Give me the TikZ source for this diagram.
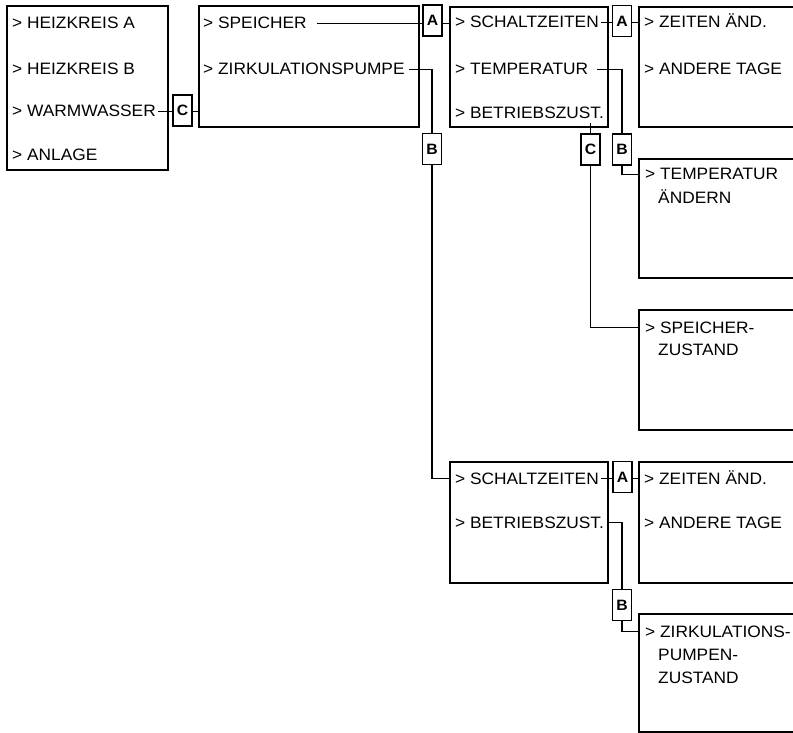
\documentclass[tikz,border=0pt]{standalone}
\usepackage{fontspec}
\setmainfont{Liberation Sans}[FakeStretch=1.05]

\begin{document}
\begin{tikzpicture}[
    x=1pt, y=-1pt,
    menu/.style={draw, rectangle, line width=1.8pt, inner sep=0pt, anchor=north west},
    entry/.style={anchor=base west, inner sep=0pt, font=\fontsize{16.5}{23}\selectfont},
    tag/.style={draw, rectangle, line width=1.7pt, fill=white, minimum width=19pt, minimum height=31pt, inner sep=0pt, font=\fontsize{15}{15}\selectfont\bfseries},
    link/.style={line width=1.5pt},
]

\useasboundingbox (0,0) rectangle (793,733);
\clip (0,0) rectangle (793,733);

% Menu boxes
\node[menu, minimum width=161, minimum height=164] (hauptmenu) at (6,5) {};
\node[menu, minimum width=220, minimum height=121] (warmwasser) at (198,5) {};
\node[menu, minimum width=158, minimum height=120] (speicher) at (449,6) {};
\node[menu, minimum width=200, minimum height=120] (spzeiten) at (638,6) {};
\node[menu, minimum width=200, minimum height=119] (sptemp) at (638,158) {};
\node[menu, minimum width=200, minimum height=120] (spzust) at (638,309) {};
\node[menu, minimum width=158, minimum height=121] (zirkulation) at (449,461) {};
\node[menu, minimum width=200, minimum height=121] (zpzeiten) at (638,461) {};
\node[menu, minimum width=200, minimum height=118] (zpzust) at (638,613) {};

% Entries
\node[entry] (e-hka) at (12,29) {> HEIZKREIS A};
\node[entry] (e-hkb) at (12,75) {> HEIZKREIS B};
\node[entry] (e-ww) at (12,117) {> WARMWASSER};
\node[entry] (e-anl) at (12,161) {> ANLAGE};

\node[entry] (e-sp) at (203,29) {> SPEICHER};
\node[entry] (e-zp) at (203,75) {> ZIRKULATIONSPUMPE};

\node[entry] (e-sz1) at (455,28) {> SCHALTZEITEN};
\node[entry] (e-temp) at (455,75) {> TEMPERATUR};
\node[entry] (e-bz1) at (455,119) {> BETRIEBSZUST.};

\node[entry] (e-za1) at (644,28) {> ZEITEN ÄND.};
\node[entry] (e-at1) at (644,75) {> ANDERE TAGE};

\node[entry] (e-ta) at (645,180) {> TEMPERATUR};
\node[entry] (e-tb) at (658,204) {ÄNDERN};

\node[entry] (e-sza) at (645,333) {> SPEICHER-};
\node[entry] (e-szb) at (658,355) {ZUSTAND};

\node[entry] (e-sz2) at (455,484) {> SCHALTZEITEN};
\node[entry] (e-bz2) at (455,528) {> BETRIEBSZUST.};

\node[entry] (e-za2) at (644,484) {> ZEITEN ÄND.};
\node[entry] (e-at2) at (644,528) {> ANDERE TAGE};

\node[entry] (e-zza) at (645,637) {> ZIRKULATIONS-};
\node[entry] (e-zzb) at (658,660) {PUMPEN-};
\node[entry] (e-zzc) at (658,683) {ZUSTAND};

% Tags
\node[tag] (c1) at (182.5,110.5) {C};
\node[tag] (a1) at (432.5,20.5) {A};
\node[tag] (b1) at (432,149) {B};
\node[tag] (a2) at (622,21) {A};
\node[tag] (b2) at (622,149.5) {B};
\node[tag] (c2) at (590.5,149.5) {C};
\node[tag] (a3) at (622.5,477) {A};
\node[tag] (b3) at (622,605) {B};

% Links
\draw[link] ([xshift=2pt]e-ww.east) -- (c1.west |- e-ww.east);
\draw[link] (c1.east |- e-ww.east) -- (warmwasser.west |- e-ww.east);

\draw[link] ([xshift=10pt]e-sp.east) -- (a1.west |- e-sp.east);
\draw[link] (a1.east |- e-sp.east) -- (speicher.west |- e-sp.east);

\draw[link] ([xshift=4pt]e-zp.east) -| (b1.north);
\draw[link] (b1.south) |- (zirkulation.west |- e-sz2.east);

\draw[link] ([xshift=2pt]e-sz1.east) -- (a2.west |- e-sz1.east);
\draw[link] (a2.east |- e-sz1.east) -- (spzeiten.west |- e-sz1.east);

\draw[link] ([xshift=9pt]e-temp.east) -| (b2.north);
\draw[link] (b2.south) |- (sptemp.west |- e-ta.east);

\draw[link] ([yshift=-4pt]e-bz1.south -| c2.north) -- (c2.north);
\draw[link] (c2.south) |- (spzust.west |- e-sza.east);

\draw[link] ([xshift=2pt]e-sz2.east) -- (a3.west |- e-sz2.east);
\draw[link] (a3.east |- e-sz2.east) -- (zpzeiten.west |- e-sz2.east);

\draw[link] ([xshift=3pt]e-bz2.east) -| (b3.north);
\draw[link] (b3.south) |- (zpzust.west |- e-zza.east);

\end{tikzpicture}
\end{document}
